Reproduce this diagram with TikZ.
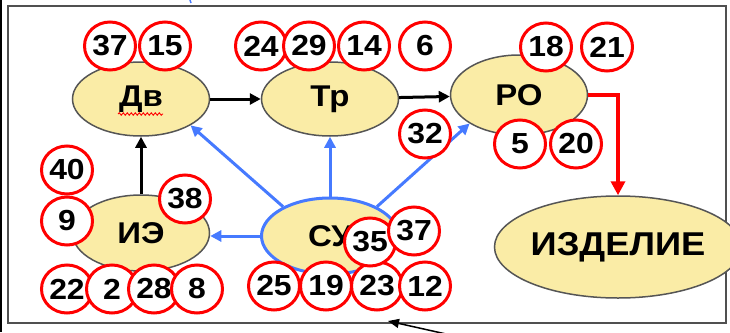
\documentclass[tikz,border=0pt]{standalone}
\usepackage{fontspec}
\usepackage{graphicx}
\setmainfont{Liberation Sans}
\usetikzlibrary{arrows.meta,shapes.geometric,decorations.pathmorphing}

\definecolor{ovalfill}{RGB}{250,236,166}
\definecolor{ovalline}{RGB}{85,85,85}
\definecolor{linkblue}{RGB}{70,122,255}
\definecolor{ringred}{RGB}{255,0,0}
\definecolor{framegray}{RGB}{80,80,80}

% slightly widened bold lettering
\newcommand\hs[1]{\scalebox{1.1}[1]{#1}}
\newcommand\numfont{\fontsize{29}{29}\selectfont\bfseries}
\newcommand\lblfont{\fontsize{30}{30}\selectfont\bfseries}
\newcommand\bigfont{\fontsize{33}{33}\selectfont\bfseries}

\begin{document}
\begin{tikzpicture}[x=1pt,y=-1pt,
  oval/.style={ellipse, draw=ovalline, fill=ovalfill, line width=1.5pt,
    inner sep=0pt, font=\lblfont, minimum width=137pt, minimum height=74pt},
  num/.style={ellipse, draw=ringred, fill=white, line width=3pt,
    inner sep=0pt, minimum width=51pt, minimum height=48pt, font=\numfont},
  blink/.style={line width=3pt, -{Triangle[length=11pt,width=11pt]}},
  bluelink/.style={blink, draw=linkblue, color=linkblue},
  redlink/.style={line width=4pt, draw=ringred, color=ringred,
    -{Triangle[length=14pt,width=14pt]}},
]
\useasboundingbox (0,0) rectangle (730,332);
\fill[white] (0,0) rectangle (730,332);

% frame
\draw[framegray, line width=2.5pt] (8,6) rectangle (726,323);
\draw[black, line width=1.6pt] (0.8,0) -- (0.8,332);
\draw[linkblue, line width=1.5pt] (190,0) -- (191,3);

% ovals
\node[oval] (dv)  at (141,99)  {\hs{Дв}};
\node[oval] (tr)  at (330,99)  {\hs{Тр}};
\node[oval, minimum height=80pt] (po) at (519,95) {\hs{РО}};
\node[oval, minimum height=76pt] (ie) at (141,233) {\hs{ИЭ}};
\node[oval, minimum height=76pt, draw=linkblue, line width=3pt] (su) at (330,236) {\hs{СУ}};
\node[oval, minimum width=205pt, minimum height=102pt, font=\bigfont] (izd) at (618,247) {\hs{ИЗДЕЛИЕ}};

% spell-check squiggle under the first label
\draw[ringred, line width=0.9pt, decorate,
  decoration={snake, amplitude=1.2pt, segment length=4pt}] (118,114) -- (163,114);

% connectors
\draw[blink] (dv) -- (tr);
\draw[blink] (tr) -- (po);
\draw[blink] (ie.north) -- (dv.south);
\draw[bluelink] (su.west) -- (su.west -| ie.east);
\draw[bluelink] (su.148) -- (dv.-28);
\draw[bluelink] (su.north) -- (tr.south);
\draw[bluelink] (su.32) -- (po.-150);
\draw[redlink] (po.east) -| (izd.north);

\coordinate (tailB) at (446,334);
\coordinate (tipB) at (388,321);
\draw[line width=1.5pt, -{Triangle[length=11pt,width=9pt]}] (tailB) -- (tipB);

% numbered rings
\node[num] (n37a) at (110,46) {\hs{37}};
\node[num] (n15)  at (165,46) {\hs{15}};
\node[num] (n24)  at (261,46) {\hs{24}};
\node[num] (n29)  at (309,46) {\hs{29}};
\node[num] (n14)  at (364,46) {\hs{14}};
\node[num] (n6)   at (425,46) {\hs{6}};
\node[num] (n18)  at (546,47) {\hs{18}};
\node[num] (n21)  at (607,47) {\hs{21}};
\node[num] (n32)  at (425,134) {\hs{32}};
\node[num] (n5)   at (520,144) {\hs{5}};
\node[num] (n20)  at (576,144) {\hs{20}};
\node[num] (n40)  at (67,170) {\hs{40}};
\node[num] (n9)   at (67,221) {\hs{9}};
\node[num] (n38)  at (185,199) {\hs{38}};
\node[num] (n22)  at (67,289) {\hs{22}};
\node[num] (n2)   at (112,289) {\hs{2}};
\node[num] (n28)  at (154,289) {\hs{28}};
\node[num] (n8)   at (197,289) {\hs{8}};
\node[num] (n25)  at (274,286) {\hs{25}};
\node[num] (n19)  at (326,286) {\hs{19}};
\node[num] (n23)  at (377,286) {\hs{23}};
\node[num] (n12)  at (425,286) {\hs{12}};
\node[num] (n35)  at (370,242) {\hs{35}};
\node[num] (n37b) at (414,231) {\hs{37}};
\end{tikzpicture}
\end{document}
